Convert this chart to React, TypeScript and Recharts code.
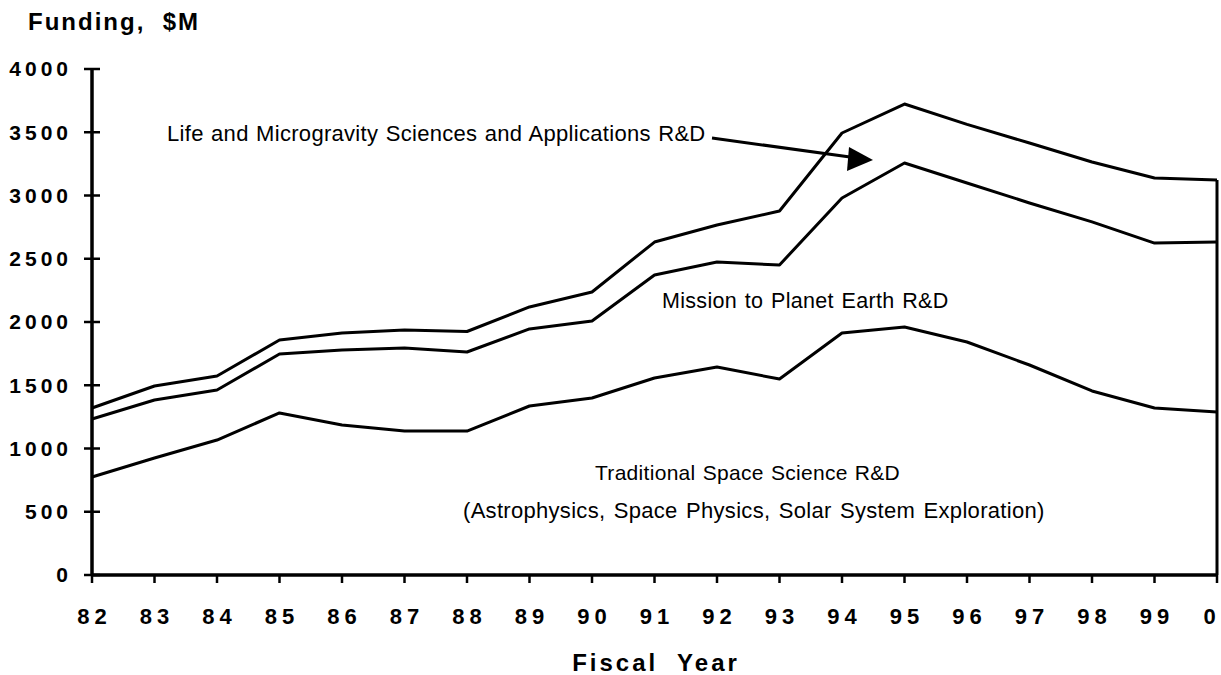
import React from 'react';
import { LineChart, Line, XAxis, YAxis, ReferenceLine } from 'recharts';

// Fiscal years (82 .. 2000)
const years = ['82', '83', '84', '85', '86', '87', '88', '89', '90', '91', '92', '93', '94', '95', '96', '97', '98', '99', '0'];

// Cumulative funding levels, $M (each line is the running total of the layers below it)
const spaceScienceTotal = [775, 925, 1067, 1281, 1186, 1138, 1138, 1336, 1399, 1557, 1644, 1549, 1913, 1960, 1842, 1660, 1455, 1320, 1289];
const planetEarthTotal = [1233, 1383, 1462, 1747, 1779, 1794, 1763, 1945, 2008, 2371, 2474, 2451, 2980, 3257, 3099, 2941, 2791, 2624, 2632];
const lifeMicrogravityTotal = [1320, 1494, 1573, 1858, 1913, 1937, 1925, 2119, 2237, 2632, 2767, 2877, 3494, 3723, 3562, 3415, 3265, 3138, 3122];

const yTicks = [0, 500, 1000, 1500, 2000, 2500, 3000, 3500, 4000];

const chartData = years.map((year, i) => ({
  year,
  spaceScience: spaceScienceTotal[i],
  planetEarth: planetEarthTotal[i],
  lifeMicrogravity: lifeMicrogravityTotal[i],
}));

const FONT = '"Liberation Sans", Arial, Helvetica, sans-serif';
const W = 1221;
const H = 675;

// y ticks cross the axis line on both sides
const YTick = ({ x, y, payload }: any) => {
  const axisX = x + 24;
  return (
    <g>
      <line x1={axisX - 8} y1={y} x2={axisX + 8} y2={y} stroke="#000" strokeWidth={2.5} />
      <text x={x + 4} y={y} dy="0.355em" textAnchor="end" fontFamily={FONT} fontWeight="bold" fontSize={21} letterSpacing={4} fill="#000">
        {payload.value}
      </text>
    </g>
  );
};

// keep the last label ("0") inside the picture, as in the original
const XTick = ({ x, y, payload }: any) => (
  <text
    x={Math.min(x + 2.5, W - 9)}
    y={y}
    dy="0.71em"
    textAnchor="middle"
    fontFamily={FONT}
    fontWeight="bold"
    fontSize={22}
    letterSpacing={5}
    fill="#000"
  >
    {payload.value}
  </text>
);

const App = () => {
  const last = years.length - 1;
  return (
    <div style={{ position: 'absolute', left: 0, top: 0, width: W, height: H, background: '#fff' }}>
      <LineChart width={W} height={H} data={chartData} margin={{ top: 69, right: 4, left: 0, bottom: 0 }}>
        <XAxis
          dataKey="year"
          height={100}
          stroke="#000"
          strokeWidth={3.5}
          tickSize={8}
          tickMargin={25}
          tickLine={{ stroke: '#000', strokeWidth: 2.5 }}
          tick={<XTick />}
          interval={0}
        />
        <YAxis
          width={92}
          domain={[0, 4000]}
          ticks={yTicks}
          stroke="#000"
          strokeWidth={3.5}
          tickSize={8}
          tickMargin={16}
          tickLine={false}
          tick={<YTick />}
          interval={0}
        />
        <ReferenceLine
          segment={[{ x: years[last], y: 0 }, { x: years[last], y: lifeMicrogravityTotal[last] }]}
          stroke="#000"
          strokeWidth={3}
        />
        <Line dataKey="spaceScience" stroke="#000" strokeWidth={3} dot={false} isAnimationActive={false} strokeLinejoin="round" />
        <Line dataKey="planetEarth" stroke="#000" strokeWidth={3} dot={false} isAnimationActive={false} strokeLinejoin="round" />
        <Line dataKey="lifeMicrogravity" stroke="#000" strokeWidth={3} dot={false} isAnimationActive={false} strokeLinejoin="round" />
      </LineChart>
      <svg width={W} height={H} style={{ position: 'absolute', left: 0, top: 0, pointerEvents: 'none' }}>
        <g fontFamily={FONT} fill="#000">
          <text x={28} y={30} fontSize={24} fontWeight="bold" letterSpacing={2} style={{ whiteSpace: 'pre' }}>
            {'Funding,  $M'}
          </text>
          <text x={656} y={671} fontSize={24} fontWeight="bold" letterSpacing={3} textAnchor="middle" style={{ whiteSpace: 'pre' }}>
            {'Fiscal  Year'}
          </text>
          <text x={167} y={141} fontSize={22} letterSpacing={0.3} wordSpacing={1}>
            Life and Microgravity Sciences and Applications R&amp;D
          </text>
          <text x={662} y={308} fontSize={21.5} letterSpacing={0.3} wordSpacing={1.5}>
            Mission to Planet Earth R&amp;D
          </text>
          <text x={595} y={480} fontSize={21} letterSpacing={0.3} wordSpacing={1}>
            Traditional Space Science R&amp;D
          </text>
          <text x={463} y={518} fontSize={22} letterSpacing={0.3} wordSpacing={2}>
            (Astrophysics, Space Physics, Solar System Exploration)
          </text>
        </g>
        <line x1={712} y1={138} x2={850} y2={157} stroke="#000" strokeWidth={3} />
        <polygon points="873,160 849,147 847,171" fill="#000" />
      </svg>
    </div>
  );
};

export default App;
